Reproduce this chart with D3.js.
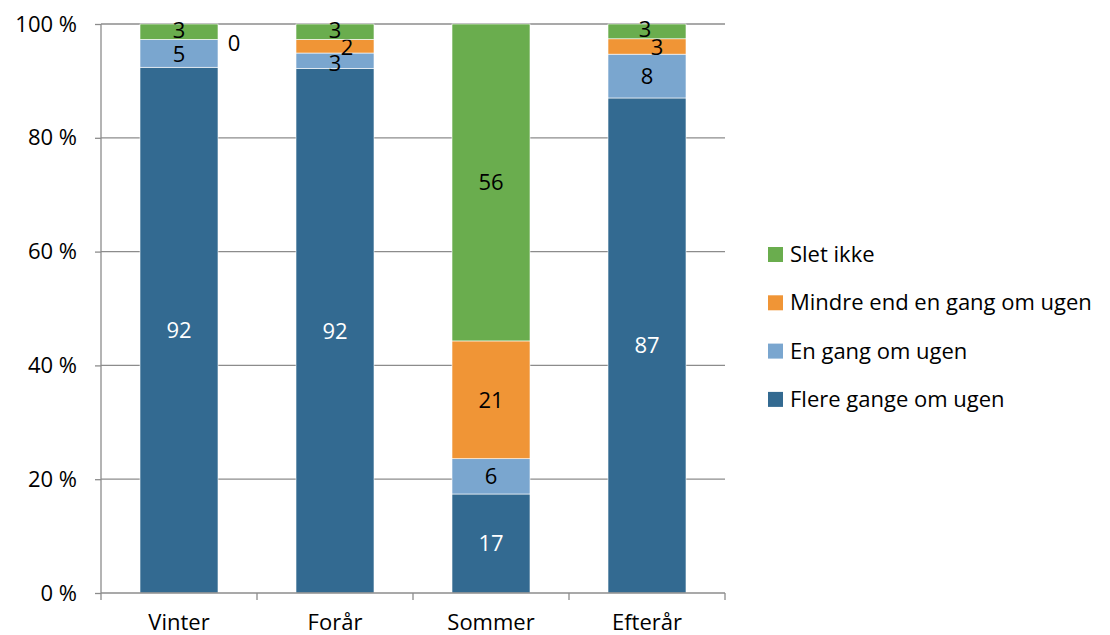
<!DOCTYPE html>
<html>
<head>
<meta charset="utf-8">
<script src="https://cdn.jsdelivr.net/npm/d3@7"></script>
<style>
  body { margin: 0; background: #fff; }
  text { font-family: "Open Sans", Lato, sans-serif; }
</style>
</head>
<body>
<svg width="1110" height="635"></svg>
<script>
var svg = d3.select("svg");

// data (percent, labels show rounded values)
var seasons = ["Vinter", "Forår", "Sommer", "Efterår"];
var series = ["Flere gange om ugen", "En gang om ugen", "Mindre end en gang om ugen", "Slet ikke"];
var flere = [92.4, 92.2, 17.4, 87.0];
var enGang = [4.9, 2.7, 6.2, 7.7];
var mindre = [0, 2.4, 20.7, 2.7];
var sletIkke = [2.7, 2.7, 55.7, 2.6];
var yTicks = [0, 0.2, 0.4, 0.6, 0.8, 1];

var colors = ["#336a91", "#7aa6cf", "#f09536", "#6aad4e"];
var labelColors = ["#fff", "#000", "#000", "#000"];
var fs = 22;

// nudges for crowded labels, like excel does
var nudge = {
  "Vinter|Mindre end en gang om ugen": [55, 4],
  "Vinter|Slet ikke": [0, -2],
  "Vinter|En gang om ugen": [0, 1],
  "Forår|Mindre end en gang om ugen": [12, 1],
  "Forår|En gang om ugen": [0, 2],
  "Forår|Slet ikke": [0, -2],
  "Efterår|Mindre end en gang om ugen": [10, 1],
  "Efterår|Slet ikke": [-2, -2]
};

var rows = seasons.map(function(s, i) {
  var r = { season: s };
  r[series[0]] = flere[i];
  r[series[1]] = enGang[i];
  r[series[2]] = mindre[i];
  r[series[3]] = sletIkke[i];
  return r;
});

var stacked = d3.stack()
    .keys(series)
    .offset(d3.stackOffsetExpand)(rows);

var x = d3.scaleBand()
    .domain(seasons)
    .range([101, 725])
    .paddingInner(0.5)
    .paddingOuter(0.25);

var y = d3.scaleLinear()
    .domain([0, 1])
    .range([593, 24]);

// gridlines
svg.append("g")
  .selectAll("line")
  .data(yTicks.slice(1))
  .enter().append("line")
    .attr("x1", 101)
    .attr("x2", 725)
    .attr("y1", function(d) { return y(d); })
    .attr("y2", function(d) { return y(d); })
    .attr("stroke", "#8c8c8c")
    .attr("stroke-width", 1.3);

// bars
var layer = svg.append("g")
  .selectAll("g")
  .data(stacked)
  .enter().append("g")
    .attr("fill", function(d, i) { return colors[i]; });

layer.selectAll("rect")
  .data(function(d) { return d; })
  .enter().append("rect")
    .attr("x", function(d) { return x(d.data.season); })
    .attr("width", x.bandwidth())
    .attr("y", function(d) { return y(d[1]); })
    .attr("height", function(d) { return y(d[0]) - y(d[1]); })
    .attr("stroke", "#fff")
    .attr("stroke-width", 0.6);

// labels
layer.each(function(s, i) {
  d3.select(this).selectAll("text")
    .data(s)
    .enter().append("text")
      .attr("text-anchor", "middle")
      .attr("dy", "0.36em")
      .attr("font-size", fs)
      .attr("fill", labelColors[i])
      .attr("x", function(d) {
        var n = nudge[d.data.season + "|" + s.key];
        return x(d.data.season) + x.bandwidth() / 2 + (n ? n[0] : 0);
      })
      .attr("y", function(d) {
        var n = nudge[d.data.season + "|" + s.key];
        return y((d[0] + d[1]) / 2) + (n ? n[1] : 0);
      })
      .text(function(d) { return Math.round(d.data[s.key]); });
});

// y axis
var yAxis = svg.append("g")
    .attr("transform", "translate(101,0)")
    .call(d3.axisLeft(y).tickValues(yTicks).tickSize(6).tickPadding(18)
      .tickFormat(function(d) { return Math.round(d * 100) + " %"; }));
yAxis.select(".domain").attr("stroke", "#8c8c8c").attr("stroke-width", 1.3)
    .attr("d", "M0,24V593");
yAxis.selectAll(".tick line").attr("stroke", "#8c8c8c").attr("stroke-width", 1.3);
yAxis.selectAll(".tick text").attr("font-size", fs).attr("fill", "#000")
    .style("font-family", "'Open Sans', Lato, sans-serif");

// x axis
var xAxis = svg.append("g")
    .attr("transform", "translate(0,593)")
    .call(d3.axisBottom(x).tickSize(0).tickPadding(21));
xAxis.select(".domain").attr("stroke", "#8c8c8c").attr("stroke-width", 1.3)
    .attr("d", "M101,0H725");
xAxis.selectAll(".tick text").attr("font-size", fs).attr("fill", "#000")
    .attr("dy", "0.72em")
    .style("font-family", "'Open Sans', Lato, sans-serif");

// boundary ticks between categories
xAxis.selectAll(".sep")
  .data(d3.range(seasons.length + 1))
  .enter().append("line")
    .attr("class", "sep")
    .attr("x1", function(i) { return 101 + i * x.step(); })
    .attr("x2", function(i) { return 101 + i * x.step(); })
    .attr("y1", 0)
    .attr("y2", 7)
    .attr("stroke", "#8c8c8c")
    .attr("stroke-width", 1.3);

// legend
var legendOrder = series.slice().reverse();
var legend = svg.selectAll(".legend")
    .data(legendOrder)
    .enter().append("g")
    .attr("class", "legend")
    .attr("transform", function(d, i) { return "translate(768," + (254 + i * 48.3) + ")"; });

legend.append("rect")
    .attr("x", 0)
    .attr("y", -7)
    .attr("width", 15)
    .attr("height", 15)
    .style("fill", function(d) { return colors[series.indexOf(d)]; });

legend.append("text")
    .attr("x", 22)
    .attr("y", 0)
    .attr("dy", "0.36em")
    .attr("font-size", fs)
    .text(function(d) { return d; });
</script>
</body>
</html>
